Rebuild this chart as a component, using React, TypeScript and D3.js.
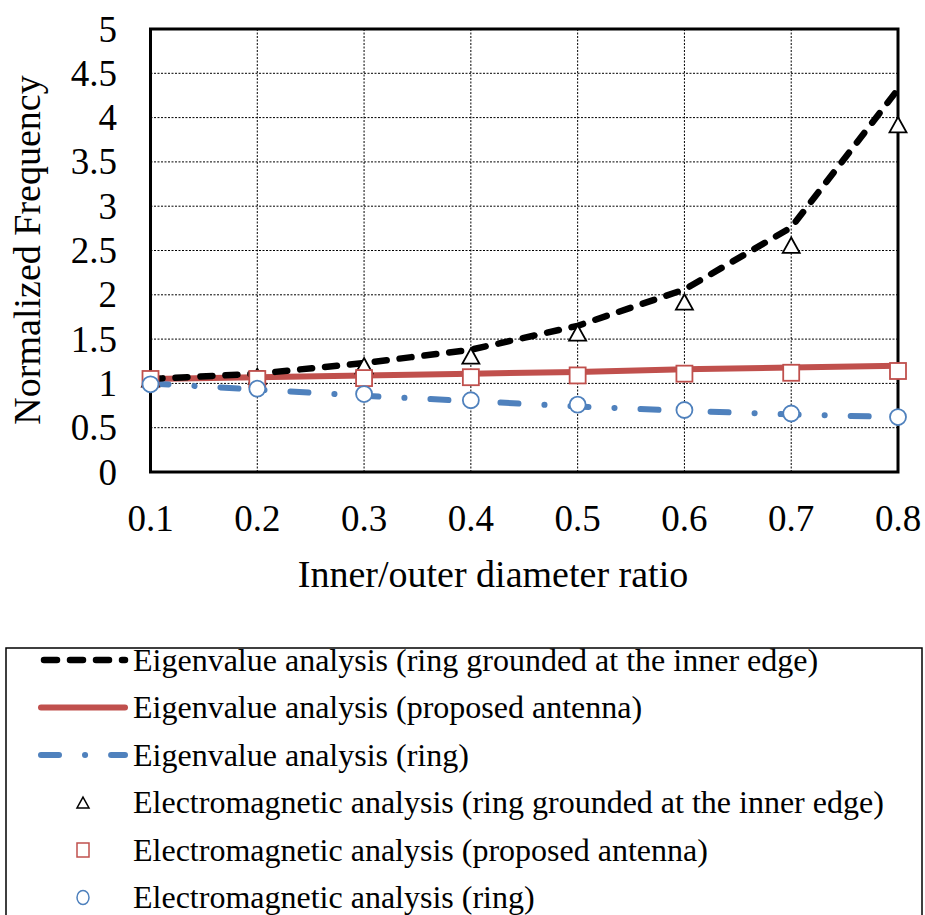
import React from "react";
import * as d3 from "d3";

const ratio = [0.1, 0.2, 0.3, 0.4, 0.5, 0.6, 0.7, 0.8];
const eigGrounded = [1.05, 1.11, 1.23, 1.38, 1.65, 2.06, 2.76, 4.32];
const eigProposed = [1.05, 1.07, 1.09, 1.11, 1.13, 1.16, 1.18, 1.2];
const eigRing = [1.0, 0.93, 0.86, 0.8, 0.74, 0.69, 0.65, 0.62];
const emGrounded = [1.05, 1.08, 1.2, 1.31, 1.57, 1.92, 2.56, 3.92];
const emProposed = [1.05, 1.05, 1.06, 1.07, 1.09, 1.11, 1.12, 1.14];
const emRing = [0.99, 0.94, 0.88, 0.81, 0.76, 0.7, 0.66, 0.62];

const xTicks = [0.1, 0.2, 0.3, 0.4, 0.5, 0.6, 0.7, 0.8];
const yTicks = [0, 0.5, 1, 1.5, 2, 2.5, 3, 3.5, 4, 4.5, 5];

const legendLabels = [
  "Eigenvalue analysis (ring grounded at the inner edge)",
  "Eigenvalue analysis (proposed antenna)",
  "Eigenvalue analysis (ring)",
  "Electromagnetic analysis (ring grounded at the inner edge)",
  "Electromagnetic analysis (proposed antenna)",
  "Electromagnetic analysis (ring)",
];

const RED = "#C0504D";
const BLUE = "#4F81BD";
const FONT = '"Liberation Serif", "Times New Roman", Times, "DejaVu Serif", serif';
const TS: React.CSSProperties = { fontFamily: FONT };

export default function App() {
  const W = 925,
    H = 915;
  const x = d3.scaleLinear().domain([0.1, 0.8]).range([150.5, 898]);
  const y = d3.scaleLinear().domain([0, 5]).range([472, 29]);
  const line = d3
    .line<[number, number]>()
    .x((d) => x(d[0]))
    .y((d) => y(d[1]));
  const pts = (vals: number[]) => ratio.map((r, i) => [r, vals[i]] as [number, number]);

  const tri = (cx: number, cy: number, s: number) => {
    const h = s * 0.9;
    return `M${cx},${cy - h / 2}L${cx + s / 2},${cy + h / 2}L${cx - s / 2},${cy + h / 2}Z`;
  };

  const blackDash = "12,13";
  const blueDash = "18,26,0.1,26";

  const legendY = [660, 707.5, 755, 802.5, 850, 897.5];

  return (
    <svg
      width={W}
      height={H}
      style={{ position: "absolute", left: 0, top: 0, background: "#fff", fontFamily: FONT }}
    >
      <rect x={0} y={0} width={W} height={H} fill="#fff" />
      {xTicks.slice(1, -1).map((t) => (
        <line
          key={"gx" + t}
          x1={x(t)}
          x2={x(t)}
          y1={y(5)}
          y2={y(0)}
          stroke="#000"
          strokeWidth={1}
          strokeDasharray="2,1.5"
        />
      ))}
      {yTicks.slice(1, -1).map((t) => (
        <line
          key={"gy" + t}
          x1={x(0.1)}
          x2={x(0.8)}
          y1={y(t)}
          y2={y(t)}
          stroke="#000"
          strokeWidth={1}
          strokeDasharray="2,1.5"
        />
      ))}
      <rect
        x={x(0.1)}
        y={y(5)}
        width={x(0.8) - x(0.1)}
        height={y(0) - y(5)}
        fill="none"
        stroke="#000"
        strokeWidth={3}
      />
      <path
        d={line(pts(eigProposed)) || ""}
        fill="none"
        stroke={RED}
        strokeWidth={6}
        strokeLinecap="round"
      />
      <path
        d={line(pts(eigRing)) || ""}
        fill="none"
        stroke={BLUE}
        strokeWidth={6}
        strokeLinecap="round"
        strokeDasharray={blueDash}
      />
      <path
        d={line(pts(eigGrounded)) || ""}
        fill="none"
        stroke="#000"
        strokeWidth={6.5}
        strokeLinecap="round"
        strokeDasharray={blackDash}
      />
      {ratio.map((r, i) => (
        <path
          key={"t" + i}
          d={tri(x(r), y(emGrounded[i]), 17)}
          fill="#fff"
          stroke="#000"
          strokeWidth={1.8}
        />
      ))}
      {ratio.map((r, i) => (
        <rect
          key={"s" + i}
          x={x(r) - 8}
          y={y(emProposed[i]) - 8}
          width={16}
          height={16}
          fill="#fff"
          stroke={RED}
          strokeWidth={1.8}
        />
      ))}
      {ratio.map((r, i) => (
        <circle
          key={"c" + i}
          cx={x(r)}
          cy={y(emRing[i])}
          r={8}
          fill="#fff"
          stroke={BLUE}
          strokeWidth={1.8}
        />
      ))}
      {yTicks.map((t) => (
        <text
          key={"yl" + t}
          x={117}
          y={y(t)}
          dy="0.34em"
          textAnchor="end"
          fontSize={37}
          fill="#000"
          style={TS}
        >
          {d3.format("")(t)}
        </text>
      ))}
      {xTicks.map((t) => (
        <text
          key={"xl" + t}
          x={x(t)}
          y={531}
          textAnchor="middle"
          fontSize={37}
          fill="#000"
          style={TS}
        >
          {t.toFixed(1)}
        </text>
      ))}
      <text x={493} y={587} textAnchor="middle" fontSize={38} fill="#000" style={TS}>
        Inner/outer diameter ratio
      </text>
      <text
        transform="translate(40,250) rotate(-90)"
        textAnchor="middle"
        fontSize={38}
        fill="#000"
        style={TS}
      >
        Normalized Frequency
      </text>
      <rect x={6} y={648} width={916} height={290} fill="#fff" stroke="#000" strokeWidth={1.5} />
      <line x1={44} x2={125} y1={legendY[0]} y2={legendY[0]} stroke="#000" strokeWidth={6.5} strokeLinecap="round" strokeDasharray="13,13" />
      <line x1={41} x2={125} y1={legendY[1]} y2={legendY[1]} stroke={RED} strokeWidth={6} strokeLinecap="round" />
      <line x1={41} x2={125} y1={legendY[2]} y2={legendY[2]} stroke={BLUE} strokeWidth={6} strokeLinecap="round" strokeDasharray={blueDash} />
      <path d={tri(83, legendY[3], 12)} fill="#fff" stroke="#000" strokeWidth={1.5} />
      <rect x={77} y={legendY[4] - 7} width={12} height={14} fill="#fff" stroke={RED} strokeWidth={1.5} />
      <ellipse cx={83} cy={legendY[5]} rx={6} ry={7} fill="#fff" stroke={BLUE} strokeWidth={1.5} />
      {legendLabels.map((l, i) => (
        <text key={"lg" + i} x={133} y={legendY[i] + 10.5} fontSize={32} fill="#000" style={TS}>
          {l}
        </text>
      ))}
    </svg>
  );
}
